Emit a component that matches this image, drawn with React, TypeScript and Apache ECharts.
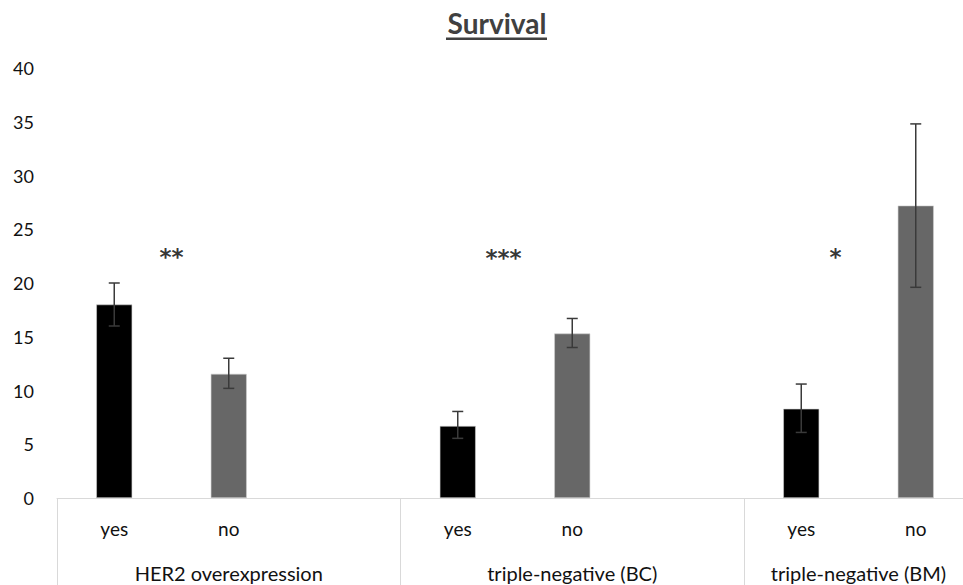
import React, { useEffect, useRef } from "react";
import * as echarts from "echarts";

// ---- data ----
const categories = ["yes", "no", "", "yes", "no", "", "yes", "no"];
const groups = ["HER2 overexpression", "triple-negative (BC)", "triple-negative (BM)"];
const groupSizes = [3, 3, 2];
const means: (number | null)[] = [18.0, 11.55, null, 6.7, 15.3, null, 8.3, 27.2];
const errLow: (number | null)[] = [16.0, 10.2, null, 5.55, 14.0, null, 6.1, 19.6];
const errHigh: (number | null)[] = [20.0, 13.0, null, 8.05, 16.7, null, 10.6, 34.8];
const sigLabels = ["**", "***", "*"];
const sigX = [1.0, 3.9, 6.8];
const sigY = [22.4, 22.35, 22.4];
const yTicks = { min: 0, max: 40, interval: 5 };
const titleText = "Survival";

const FONT = "Lato, 'Open Sans', sans-serif";
const TEXT = "#111111";
const BAR_COLORS: Record<string, string> = { yes: "#000000", no: "#676767" };

export default function App() {
  const ref = useRef<HTMLDivElement>(null);

  useEffect(() => {
    if (!ref.current) return;
    const chart = echarts.init(ref.current, undefined, { renderer: "svg" });

    // half-slot group axis (boundaryGap false): 2*N + 1 points
    const nHalf = categories.length * 2 + 1;
    const groupAxisData: string[] = new Array(nHalf).fill("");
    const separators = new Set<number>();
    let acc = 0;
    separators.add(0);
    groupSizes.forEach((sz, gi) => {
      groupAxisData[acc * 2 + sz] = groups[gi];
      acc += sz;
      separators.add(acc * 2);
    });

    const barData = means.map((v, i) =>
      v == null
        ? "-"
        : { value: v, itemStyle: { color: BAR_COLORS[categories[i]] || "#676767" } }
    );
    const errData: number[][] = [];
    means.forEach((v, i) => {
      if (v != null && errLow[i] != null && errHigh[i] != null) {
        errData.push([i, errLow[i] as number, errHigh[i] as number]);
      }
    });
    const sigData = sigLabels.map((s, i) => ({ value: [sigX[i], sigY[i]], name: s }));

    chart.setOption({
      animation: false,
      backgroundColor: "#ffffff",
      textStyle: { fontFamily: FONT },
      grid: {
        left: 57,
        top: 68,
        right: -10,
        bottom: 87,
        containLabel: false,
        outerBoundsMode: "none",
      },
      graphic: [
        {
          type: "text",
          x: 497,
          y: 23,
          style: {
            text: titleText,
            textAlign: "center",
            textVerticalAlign: "middle",
            fontFamily: FONT,
            fontWeight: "bold",
            fontSize: 28,
            fill: "#404040",
          },
        },
        {
          type: "rect",
          shape: { x: 446, y: 37.5, width: 101, height: 2.5 },
          style: { fill: "#404040" },
        },
      ],
      xAxis: [
        {
          type: "category",
          data: categories,
          position: "bottom",
          offset: 0,
          axisLine: { show: true, lineStyle: { color: "#d9d9d9", width: 1 } },
          axisTick: { show: false },
          axisLabel: { color: TEXT, fontSize: 19, fontFamily: FONT, margin: 21, interval: 0 },
          splitLine: { show: false },
        },
        {
          type: "category",
          data: groupAxisData,
          boundaryGap: false,
          position: "bottom",
          offset: 0,
          axisLine: { show: false },
          axisTick: {
            show: true,
            inside: false,
            length: 92,
            interval: (idx: number) => separators.has(idx),
            lineStyle: { color: "#d9d9d9", width: 1 },
          },
          axisLabel: {
            color: TEXT,
            fontSize: 20,
            fontFamily: FONT,
            margin: 65,
            interval: (idx: number, val: string) => !!val,
          },
          splitLine: { show: false },
        },
        {
          type: "value",
          min: 0,
          max: categories.length,
          show: false,
        },
      ],
      yAxis: {
        type: "value",
        min: yTicks.min,
        max: yTicks.max,
        interval: yTicks.interval,
        axisLine: { show: false },
        axisTick: { show: false },
        splitLine: { show: false },
        axisLabel: { color: TEXT, fontSize: 18, fontFamily: FONT, margin: 23 },
      },
      series: [
        {
          type: "bar",
          xAxisIndex: 0,
          yAxisIndex: 0,
          data: barData,
          barWidth: 36,
          itemStyle: { borderColor: "#cfcfcf", borderWidth: 0.6 },
        },
        {
          type: "custom",
          xAxisIndex: 0,
          yAxisIndex: 0,
          data: errData,
          encode: { x: 0, y: [1, 2] },
          z: 5,
          renderItem: (params: any, api: any) => {
            const i = api.value(0);
            const lo = api.coord([i, api.value(1)]);
            const hi = api.coord([i, api.value(2)]);
            const cap = 5.5;
            const style = { stroke: "#3a3a3a", lineWidth: 1.5 };
            return {
              type: "group",
              children: [
                { type: "line", shape: { x1: hi[0], y1: hi[1], x2: lo[0], y2: lo[1] }, style },
                { type: "line", shape: { x1: hi[0] - cap, y1: hi[1], x2: hi[0] + cap, y2: hi[1] }, style },
                { type: "line", shape: { x1: lo[0] - cap, y1: lo[1], x2: lo[0] + cap, y2: lo[1] }, style },
              ],
            };
          },
        },
        {
          type: "scatter",
          xAxisIndex: 2,
          yAxisIndex: 0,
          data: sigData,
          symbol: "circle",
          symbolSize: 2,
          itemStyle: { color: "rgba(0,0,0,0)" },
          silent: true,
          z: 6,
          label: {
            show: true,
            position: "inside",
            formatter: "{b}",
            fontSize: 23,
            fontWeight: "bold",
            fontFamily: "'DejaVu Sans', sans-serif",
            color: "#000000",
          },
        },
      ],
    });

    return () => chart.dispose();
  }, []);

  return (
    <div
      ref={ref}
      style={{ position: "fixed", left: 0, top: 0, width: 963, height: 585, background: "#fff" }}
    />
  );
}
